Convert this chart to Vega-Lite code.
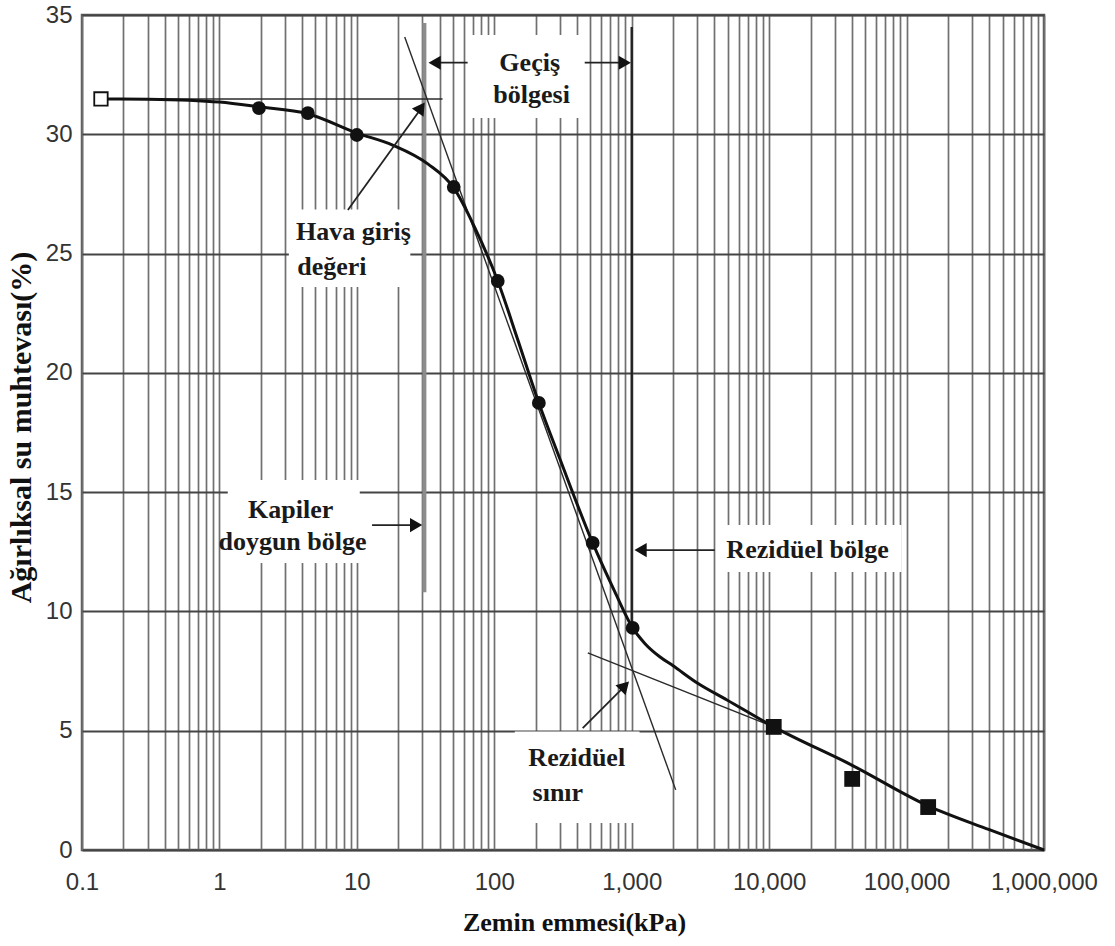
{
  "$schema": "https://vega.github.io/schema/vega-lite/v6.json",
  "width": 962,
  "height": 835,
  "autosize": "none",
  "padding": {"left": 82, "top": 15, "right": 71, "bottom": 96},
  "background": "white",
  "config": {"view": {"stroke": "#5a5a5a", "strokeWidth": 2.5}},
  "datasets": {
    "curve": [
      {"s": 0.137, "w": 31.48}, {"s": 0.3, "w": 31.47}, {"s": 0.6, "w": 31.43}, {"s": 1, "w": 31.35},
      {"s": 1.94, "w": 31.15}, {"s": 4.4, "w": 30.86}, {"s": 10, "w": 30.05}, {"s": 18.2, "w": 29.55},
      {"s": 33, "w": 28.75}, {"s": 50.7, "w": 27.75}, {"s": 72, "w": 26.1}, {"s": 106, "w": 23.85},
      {"s": 148, "w": 21.4}, {"s": 211, "w": 18.74}, {"s": 300, "w": 16.4}, {"s": 520, "w": 12.87},
      {"s": 750, "w": 10.85}, {"s": 1016, "w": 9.31}, {"s": 1250, "w": 8.65}, {"s": 1600, "w": 8.1},
      {"s": 2000, "w": 7.72}, {"s": 3000, "w": 7.0}, {"s": 4900, "w": 6.3}, {"s": 10800, "w": 5.16},
      {"s": 40200, "w": 3.55}, {"s": 143600, "w": 1.85}, {"s": 400000, "w": 0.85}, {"s": 1000000, "w": 0}
    ],
    "lines": [
      {"id": "h", "s": 0.137, "w": 31.48}, {"id": "h", "s": 42, "w": 31.48},
      {"id": "steep", "s": 22.3, "w": 34.08}, {"id": "steep", "s": 2090, "w": 2.52},
      {"id": "resid", "s": 479, "w": 8.26}, {"id": "resid", "s": 10800, "w": 5.16},
      {"id": "gv", "s": 31, "w": 34.66}, {"id": "gv", "s": 31, "w": 10.8},
      {"id": "dv", "s": 1000, "w": 34.5}, {"id": "dv", "s": 1000, "w": 9.3}
    ],
    "arrows": [
      {"id": "gl", "s": 64, "w": 33.0}, {"id": "gl", "s": 35, "w": 33.0},
      {"id": "gr", "s": 455, "w": 33.0}, {"id": "gr", "s": 920, "w": 33.0},
      {"id": "hv", "s": 8.6, "w": 26.83}, {"id": "hv", "s": 29.5, "w": 31.1},
      {"id": "kp", "s": 12.9, "w": 13.62}, {"id": "kp", "s": 28, "w": 13.62},
      {"id": "rb", "s": 4020, "w": 12.57}, {"id": "rb", "s": 1130, "w": 12.57},
      {"id": "rs", "s": 440, "w": 5.11}, {"id": "rs", "s": 900, "w": 6.9}
    ],
    "heads": [
      {"dir": "left", "s": 36.8, "w": 33.0}, {"dir": "left", "s": 1160, "w": 12.57},
      {"dir": "right", "s": 890, "w": 33.0}, {"dir": "right", "s": 27.0, "w": 13.62},
      {"dir": "hava", "s": 29.4, "w": 31.12}, {"dir": "sinir", "s": 890, "w": 6.88}
    ],
    "boxes": [
      {"s": 65, "s2": 450, "w": 30.68, "w2": 34.16},
      {"s": 3.2, "s2": 24.5, "w": 23.6, "w2": 26.85},
      {"s": 1.15, "s2": 10.5, "w": 12.03, "w2": 15.51},
      {"s": 4520, "s2": 92000, "w": 11.65, "w2": 13.62},
      {"s": 141, "s2": 1140, "w": 1.13, "w2": 4.97}
    ],
    "points": [
      {"kind": "open", "s": 0.1374, "w": 31.48},
      {"kind": "circle", "s": 1.94, "w": 31.1},
      {"kind": "circle", "s": 4.4, "w": 30.89},
      {"kind": "circle", "s": 10, "w": 29.97},
      {"kind": "circle", "s": 50.7, "w": 27.79},
      {"kind": "circle", "s": 106, "w": 23.85},
      {"kind": "circle", "s": 211, "w": 18.74},
      {"kind": "circle", "s": 520, "w": 12.87},
      {"kind": "circle", "s": 1016, "w": 9.31},
      {"kind": "square", "s": 10800, "w": 5.16},
      {"kind": "square", "s": 40200, "w": 2.98},
      {"kind": "square", "s": 143600, "w": 1.8}
    ],
    "labels": [
      {"text": "Geçiş", "s": 181, "w": 33.0},
      {"text": "bölgesi", "s": 187, "w": 31.65},
      {"text": "Hava giriş", "s": 9.45, "w": 25.9},
      {"text": "değeri", "s": 6.58, "w": 24.44},
      {"text": "Kapiler", "s": 3.3, "w": 14.25},
      {"text": "doygun bölge", "s": 3.4, "w": 12.91},
      {"text": "Rezidüel bölge", "s": 19050, "w": 12.57},
      {"text": "Rezidüel", "s": 398, "w": 3.86},
      {"text": "sınır", "s": 290, "w": 2.39}
    ]
  },
  "encoding": {
    "x": {
      "field": "s",
      "type": "quantitative",
      "scale": {"type": "log", "domain": [0.1, 1000000], "nice": false, "zero": false},
      "axis": {
        "title": "Zemin emmesi(kPa)",
        "values": [0.1,0.2,0.3,0.4,0.5,0.6,0.7,0.8,0.9,1,2,3,4,5,6,7,8,9,10,20,30,40,50,60,70,80,90,100,200,300,400,500,600,700,800,900,1000,2000,3000,4000,5000,6000,7000,8000,9000,10000,20000,30000,40000,50000,60000,70000,80000,90000,100000,200000,300000,400000,500000,600000,700000,800000,900000,1000000],
        "format": ",",
        "labelExpr": "indexof(['0.1','1','10','100','1,000','10,000','100,000','1,000,000'], datum.label) >= 0 ? datum.label : ''",
        "labelOverlap": false,
        "labelFlush": false,
        "labelBound": false,
        "ticks": false,
        "domain": false,
        "grid": true,
        "gridColor": "#707070",
        "gridWidth": 1.7,
        "labelFont": "Liberation Sans",
        "labelFontSize": 24,
        "labelColor": "#333333",
        "labelPadding": 20,
        "titleFont": "Liberation Serif",
        "titleFontWeight": "bold",
        "titleFontSize": 26,
        "titleColor": "#111111",
        "titleX": 492,
        "titleY": 72,
        "titleAlign": "center",
        "titleBaseline": "middle"
      }
    },
    "y": {
      "field": "w",
      "type": "quantitative",
      "scale": {"domain": [0, 35], "nice": false},
      "axis": {
        "title": "Ağırlıksal su muhtevası(%)",
        "values": [0, 5, 10, 15, 20, 25, 30, 35],
        "ticks": false,
        "domain": false,
        "grid": true,
        "gridColor": "#444444",
        "gridWidth": 2,
        "labelFont": "Liberation Sans",
        "labelFontSize": 24,
        "labelColor": "#333333",
        "labelPadding": 10,
        "titleFont": "Liberation Serif",
        "titleFontWeight": "bold",
        "titleFontSize": 30,
        "titleColor": "#111111",
        "titleX": -61,
        "titleY": 412,
        "titleAngle": -90,
        "titleAlign": "center",
        "titleBaseline": "middle"
      }
    }
  },
  "layer": [
    {
      "data": {"name": "boxes"},
      "mark": {"type": "rect", "fill": "white", "strokeWidth": 0},
      "encoding": {"x2": {"field": "s2"}, "y2": {"field": "w2"}}
    },
    {
      "data": {"name": "lines"},
      "transform": [{"filter": "datum.id == 'gv'"}],
      "mark": {"type": "line", "stroke": "#8c8c8c", "strokeWidth": 4},
      "encoding": {"detail": {"field": "id"}}
    },
    {
      "data": {"name": "lines"},
      "transform": [{"filter": "datum.id == 'dv'"}],
      "mark": {"type": "line", "stroke": "#222222", "strokeWidth": 2.4},
      "encoding": {"detail": {"field": "id"}}
    },
    {
      "data": {"name": "lines"},
      "transform": [{"filter": "datum.id == 'h' || datum.id == 'steep' || datum.id == 'resid'"}],
      "mark": {"type": "line", "stroke": "#2a2a2a", "strokeWidth": 1.4},
      "encoding": {"detail": {"field": "id"}}
    },
    {
      "data": {"name": "curve"},
      "mark": {"type": "line", "stroke": "#111111", "strokeWidth": 3, "interpolate": "monotone"},
      "encoding": {}
    },
    {
      "data": {"name": "arrows"},
      "mark": {"type": "line", "stroke": "#222222", "strokeWidth": 1.8},
      "encoding": {"detail": {"field": "id"}}
    },
    {
      "data": {"name": "heads"},
      "transform": [{"filter": "datum.dir == 'left'"}],
      "mark": {"type": "point", "shape": "triangle-left", "filled": true, "fill": "#111111", "size": 200, "opacity": 1, "strokeWidth": 0}
    },
    {
      "data": {"name": "heads"},
      "transform": [{"filter": "datum.dir == 'right'"}],
      "mark": {"type": "point", "shape": "triangle-right", "filled": true, "fill": "#111111", "size": 200, "opacity": 1, "strokeWidth": 0}
    },
    {
      "data": {"name": "heads"},
      "transform": [{"filter": "datum.dir == 'hava'"}],
      "mark": {"type": "point", "shape": "triangle-up", "angle": 35, "filled": true, "fill": "#111111", "size": 200, "opacity": 1, "strokeWidth": 0}
    },
    {
      "data": {"name": "heads"},
      "transform": [{"filter": "datum.dir == 'sinir'"}],
      "mark": {"type": "point", "shape": "triangle-up", "angle": 44, "filled": true, "fill": "#111111", "size": 200, "opacity": 1, "strokeWidth": 0}
    },
    {
      "data": {"name": "points"},
      "transform": [{"filter": "datum.kind == 'open'"}],
      "mark": {"type": "point", "shape": "square", "filled": false, "fill": "white", "stroke": "#111111", "strokeWidth": 1.8, "size": 180, "opacity": 1}
    },
    {
      "data": {"name": "points"},
      "transform": [{"filter": "datum.kind == 'circle'"}],
      "mark": {"type": "circle", "color": "#111111", "size": 190, "opacity": 1}
    },
    {
      "data": {"name": "points"},
      "transform": [{"filter": "datum.kind == 'square'"}],
      "mark": {"type": "square", "color": "#111111", "size": 250, "opacity": 1}
    },
    {
      "data": {"name": "labels"},
      "mark": {"type": "text", "font": "Liberation Serif", "fontWeight": "bold", "fontSize": 26, "color": "#1a1a1a", "align": "center", "baseline": "middle"},
      "encoding": {"text": {"field": "text"}}
    }
  ]
}
